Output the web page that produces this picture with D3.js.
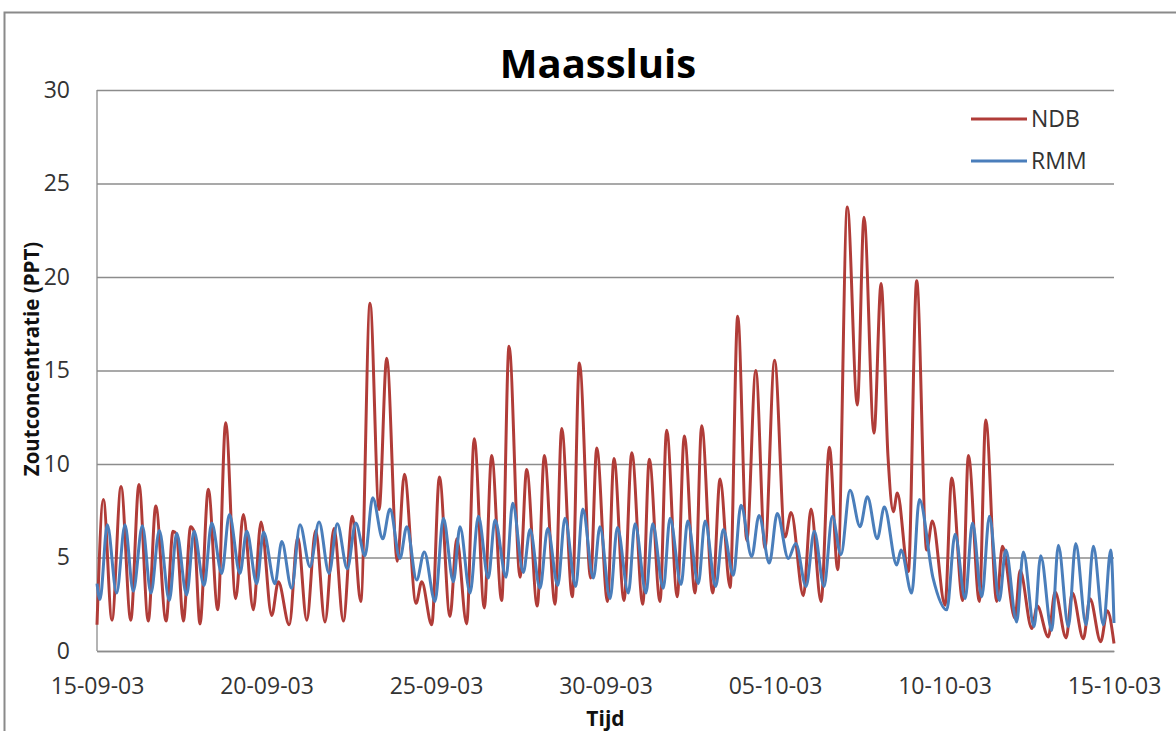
<!DOCTYPE html>
<html>
<head>
<meta charset="utf-8">
<script src="https://cdn.jsdelivr.net/npm/d3@7/dist/d3.min.js"></script>
<style>
  html, body { margin: 0; padding: 0; background: #fff; }
  svg { display: block; }
</style>
</head>
<body>
<svg id="chart" width="1176" height="731"></svg>
<script>
// Zoutconcentratie Maassluis, 15-09-2003 t/m 15-10-2003
// Tijden in uren vanaf 15-09-03 00:00 (hoog- en laagwaterpunten van de getijcyclus)
const ndbHours = [0, 4.5, 10.6, 17.0, 23.9, 29.7, 36.3, 41.6, 48.9, 53.8, 56.3, 61.1, 66.3, 68.7, 72.9,
  78.8, 85.5, 91.1, 98.2, 103.6, 110.7, 116.1, 123.7, 128.4, 136.1, 142.1, 148.5, 154.8, 161.4, 167.8,
  174.4, 180.8, 186.7, 193.3, 199.7, 205.1, 212.6, 217.6, 225.9, 229.9, 237.0, 242.4, 249.9, 254.7,
  261.7, 267.1, 274.2, 279.4, 286.5, 291.7, 299.5, 304.2, 311.7, 316.7, 324.3, 329.0, 336.5, 341.5,
  349.5, 353.8, 361.4, 366.0, 373.1, 378.6, 386.4, 391.0, 398.6, 403.3, 410.8, 415.8, 423.4, 428.1,
  435.9, 441.1, 448.2, 453.6, 460.0, 466.4, 472.9, 479.7, 487.1, 491.4, 500.1, 505.5, 512.6, 518.5,
  524.4, 531.2, 538.3, 543.0, 550.1, 555.1, 560.0, 563.8, 566.6, 574.4, 580.3, 587.4, 591.4, 600.4,
  605.1, 612.9, 616.9, 624.7, 629.2, 637.0, 641.0, 649.9, 653.5, 661.8, 665.7, 673.5, 678.3, 686.1,
  690.5, 698.3, 703.0, 710.6, 715.3, 720];
const ndbValues = [1.4, 8.1, 1.65, 8.8, 1.65, 8.9, 1.6, 7.75, 1.6, 6.4, 6.25, 1.6, 6.65, 6.4, 1.45,
  8.65, 2.2, 12.2, 2.8, 7.3, 2.2, 6.9, 1.9, 3.7, 1.4, 6.1, 1.65, 6.45, 1.55, 6.55,
  1.6, 7.2, 2.65, 18.6, 7.55, 15.65, 4.8, 9.45, 2.55, 3.7, 1.4, 9.3, 1.85, 6.0,
  1.45, 11.35, 2.3, 10.45, 2.7, 16.3, 3.95, 9.7, 2.4, 10.45, 2.5, 11.9, 2.9, 15.4,
  3.9, 10.85, 2.65, 10.3, 2.7, 10.6, 2.5, 10.25, 2.65, 11.8, 2.9, 11.5, 3.1, 12.05,
  3.1, 9.2, 3.4, 17.9, 5.9, 15.0, 5.5, 15.55, 6.1, 7.4, 2.95, 7.6, 2.65, 10.9,
  4.35, 23.75, 13.15, 23.2, 11.65, 19.65, 10.4, 7.45, 8.45, 4.25, 19.8, 5.4, 6.95, 2.45,
  9.25, 2.7, 10.45, 2.65, 12.35, 2.65, 5.6, 1.75, 4.3, 1.2, 2.4, 0.75, 3.15, 0.7,
  3.1, 0.65, 2.8, 0.5, 2.15, 0.4];

const rmmHours = [0, 2.1, 7.3, 13.9, 19.8, 25.7, 32.1, 38.2, 44.1, 51.2, 56.4, 63.5, 68.7, 75.8,
  81.2, 88.3, 93.7, 101.2, 106.0, 113.1, 117.9, 126.0, 130.8, 137.8, 143.7, 150.8, 157.2, 164.3,
  170.1, 177.2, 183.2, 189.7, 195.2, 202.3, 207.4, 214.5, 219.3, 226.3, 231.7, 239.3, 245.2, 252.3,
  257.0, 264.1, 270.0, 277.0, 281.8, 289.6, 294.3, 301.8, 306.6, 313.6, 319.1, 326.2, 331.3, 338.9,
  343.9, 351.4, 356.1, 363.2, 368.4, 376.2, 380.9, 388.7, 393.4, 400.9, 405.7, 413.5, 418.2, 425.7,
  430.5, 438.0, 443.4, 450.5, 455.9, 463.5, 468.7, 476.0, 481.6, 489.4, 494.7, 502.0, 507.8, 514.7,
  520.6, 526.7, 533.1, 540.2, 545.4, 552.4, 557.4, 566.2, 569.2, 576.8, 582.2, 591.9, 601.6, 607.5,
  614.6, 619.8, 626.4, 631.8, 638.8, 643.4, 651.1, 655.8, 663.4, 668.1, 675.9, 680.6, 687.7, 692.9,
  700.2, 705.4, 712.5, 717.7, 720];
const rmmValues = [3.6, 2.75, 6.75, 3.1, 6.75, 3.2, 6.7, 3.1, 6.45, 2.7, 6.3, 3.0, 6.4, 3.5,
  6.85, 4.15, 7.3, 4.15, 6.4, 3.6, 6.35, 3.6, 5.85, 3.35, 6.75, 4.5, 6.9, 4.15,
  6.8, 4.4, 6.85, 5.1, 8.2, 6.0, 7.6, 4.95, 6.65, 3.8, 5.3, 2.65, 7.1, 3.7,
  6.65, 3.1, 7.2, 3.9, 7.0, 3.95, 7.9, 4.2, 6.5, 3.35, 6.55, 3.5, 7.1, 3.45,
  7.6, 3.9, 6.65, 2.8, 6.6, 3.1, 6.8, 3.1, 6.8, 3.35, 7.1, 3.55, 6.95, 3.6,
  6.95, 3.45, 6.5, 4.05, 7.8, 5.05, 7.25, 4.7, 7.35, 4.95, 5.75, 3.45, 6.4, 3.45,
  7.2, 5.15, 8.6, 6.65, 8.25, 6.0, 7.7, 4.6, 5.4, 3.1, 8.1, 3.9, 2.2, 6.25,
  2.8, 6.85, 2.9, 7.2, 2.7, 5.4, 1.55, 5.3, 1.3, 5.1, 1.1, 5.65, 1.3, 5.75,
  1.4, 5.6, 1.4, 5.4, 1.5];

const xTickLabels = ["15-09-03", "20-09-03", "25-09-03", "30-09-03", "05-10-03", "10-10-03", "15-10-03"];
const yTickValues = [0, 5, 10, 15, 20, 25, 30];
const seriesNames = ["NDB", "RMM"];
const seriesColors = ["#B03C38", "#4A7EBB"];

const parseDay = d3.utcParse("%d-%m-%y");
const fmtDay = d3.utcFormat("%d-%m-%y");
const t0 = parseDay(xTickLabels[0]);
const toDate = h => new Date(t0.getTime() + h * 3600e3);

const svg = d3.select("#chart");
const plot = { left: 97, right: 1114, top: 90, bottom: 651 };

const x = d3.scaleUtc()
  .domain([t0, parseDay(xTickLabels[xTickLabels.length - 1])])
  .range([plot.left, plot.right]);
const y = d3.scaleLinear().domain([0, 30]).range([plot.bottom, plot.top]);

// chart frame
svg.append("rect")
  .attr("x", 4.5).attr("y", 12.5)
  .attr("width", 1300).attr("height", 900)
  .attr("fill", "none").attr("stroke", "#8a8a8a").attr("stroke-width", 2);

// horizontal gridlines + y axis labels
const yAxis = d3.axisLeft(y).tickValues(yTickValues)
  .tickSize(-(plot.right - plot.left)).tickPadding(27);
svg.append("g")
  .attr("transform", `translate(${plot.left},0)`)
  .call(yAxis)
  .call(g => g.select(".domain").remove())
  .call(g => g.selectAll(".tick line").attr("stroke", "#8c8c8c").attr("stroke-width", 1.3))
  .call(g => g.selectAll(".tick text")
    .attr("font-family", "'Open Sans', sans-serif").attr("font-size", 23).attr("fill", "#333"));

// vertical axis line
svg.append("line")
  .attr("x1", plot.left).attr("x2", plot.left)
  .attr("y1", plot.top).attr("y2", plot.bottom)
  .attr("stroke", "#8c8c8c").attr("stroke-width", 1.3);

// x axis
const xAxis = d3.axisBottom(x)
  .tickValues(xTickLabels.map(parseDay))
  .tickFormat(fmtDay).tickSize(0).tickPadding(27);
svg.append("g")
  .attr("transform", `translate(0,${plot.bottom})`)
  .call(xAxis)
  .call(g => g.select(".domain").attr("stroke", "#8c8c8c").attr("stroke-width", 1.3))
  .call(g => g.selectAll(".tick text")
    .attr("font-family", "'Open Sans', sans-serif").attr("font-size", 23).attr("fill", "#333"));

// series lines
const line = d3.line()
  .x(d => x(toDate(d[0])))
  .y(d => y(d[1]))
  .curve(d3.curveMonotoneX);

const series = [
  d3.zip(ndbHours, ndbValues),
  d3.zip(rmmHours, rmmValues)
];
series.forEach((pts, i) => {
  svg.append("path")
    .datum(pts)
    .attr("d", line)
    .attr("fill", "none")
    .attr("stroke", seriesColors[i])
    .attr("stroke-width", 3)
    .attr("stroke-linejoin", "round");
});

// title
svg.append("text")
  .attr("x", 598).attr("y", 78)
  .attr("text-anchor", "middle")
  .attr("font-family", "'Open Sans', sans-serif").attr("font-weight", "bold")
  .attr("font-size", 40).attr("fill", "#000")
  .text("Maassluis");

// axis titles
svg.append("text")
  .attr("x", (plot.left + plot.right) / 2).attr("y", 726)
  .attr("text-anchor", "middle")
  .attr("font-family", "'Open Sans', sans-serif").attr("font-weight", "bold")
  .attr("font-size", 21).attr("fill", "#111")
  .text("Tijd");

svg.append("text")
  .attr("transform", "translate(39,359) rotate(-90)")
  .attr("text-anchor", "middle")
  .attr("font-family", "'Open Sans', sans-serif").attr("font-weight", "bold")
  .attr("font-size", 20.5).attr("fill", "#111")
  .text("Zoutconcentratie (PPT)");

// legend
const legend = svg.append("g");
seriesNames.forEach((name, i) => {
  const ly = 119 + i * 42;
  legend.append("line")
    .attr("x1", 971).attr("x2", 1027).attr("y1", ly).attr("y2", ly)
    .attr("stroke", seriesColors[i]).attr("stroke-width", 3);
  legend.append("text")
    .attr("x", 1031).attr("y", ly).attr("dy", "0.36em")
    .attr("font-family", "'Open Sans', sans-serif").attr("font-size", 23).attr("fill", "#333")
    .text(name);
});
</script>
</body>
</html>
